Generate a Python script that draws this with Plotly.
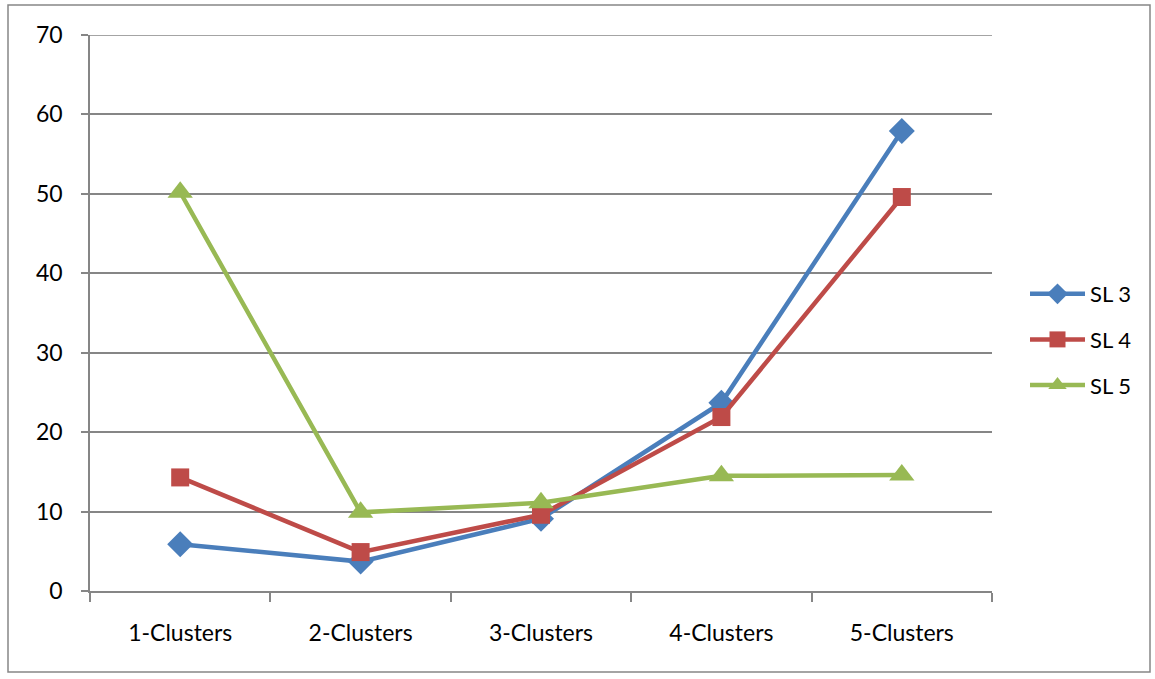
import plotly.graph_objects as go

categories = ["1-Clusters", "2-Clusters", "3-Clusters", "4-Clusters", "5-Clusters"]
sl3 = [5.9, 3.7, 9.1, 23.7, 57.9]
sl4 = [14.3, 4.9, 9.6, 21.9, 49.6]
sl5 = [50.2, 9.9, 11.1, 14.5, 14.6]
y_ticks = [0, 10, 20, 30, 40, 50, 60, 70]

series = [
    ("SL 3", sl3, "#4A7EBB", "diamond", 20),
    ("SL 4", sl4, "#BE4B48", "square", 18),
    ("SL 5", sl5, "#98B954", "triangle-up", 22),
]

fig = go.Figure()
for i, (name, vals, color, sym, size) in enumerate(series):
    fig.add_trace(go.Scatter(
        x=categories, y=vals, name=name, mode="lines+markers",
        line=dict(color=color, width=4.5),
        marker=dict(symbol=sym, size=size, color=color),
        legendgroup=name,
    ))

W, H = 1155, 679
L, R, T, B = 90, 992, 35, 591
pw, ph = R - L, B - T

def px(x):
    return (x - L) / pw

def py(y):
    return (B - y) / ph

fig.update_layout(
    width=W, height=H,
    margin=dict(l=L, r=W - R, t=T, b=H - B, pad=0),
    paper_bgcolor="white", plot_bgcolor="white",
    font=dict(family="Lato, Liberation Sans, sans-serif", size=23, color="#000000"),
    showlegend=True,
    legend=dict(x=px(1025), y=py(273), xanchor="left", yanchor="top",
                tracegroupgap=14, font=dict(size=22), bgcolor="rgba(0,0,0,0)",
                itemwidth=55),
    xaxis=dict(
        type="category", tickson="boundaries", ticks="outside", ticklen=9,
        tickcolor="#868686", tickwidth=1.5, showline=True, linecolor="#868686",
        linewidth=1.5, showgrid=False, range=[-0.5, 4.5], zeroline=False,
        ticklabelstandoff=21,
    ),
    yaxis=dict(
        range=[0, 70], tickvals=y_ticks, ticks="outside", ticklen=7,
        tickcolor="#868686", tickwidth=1.5, showline=True, linecolor="#868686",
        linewidth=1.5, showgrid=True, gridcolor="#868686", gridwidth=1.5,
        zeroline=False, ticklabelstandoff=14,
    ),
    shapes=[
        dict(type="rect", xref="paper", yref="paper",
             x0=px(8), x1=px(1150), y0=py(672), y1=py(5),
             line=dict(color="#868686", width=1.5), layer="below"),
        dict(type="line", xref="paper", yref="y",
             x0=0, x1=1, y0=y_ticks[-1], y1=y_ticks[-1],
             line=dict(color="#868686", width=1.5), layer="below"),
    ],
)

fig.write_html("out.html")
